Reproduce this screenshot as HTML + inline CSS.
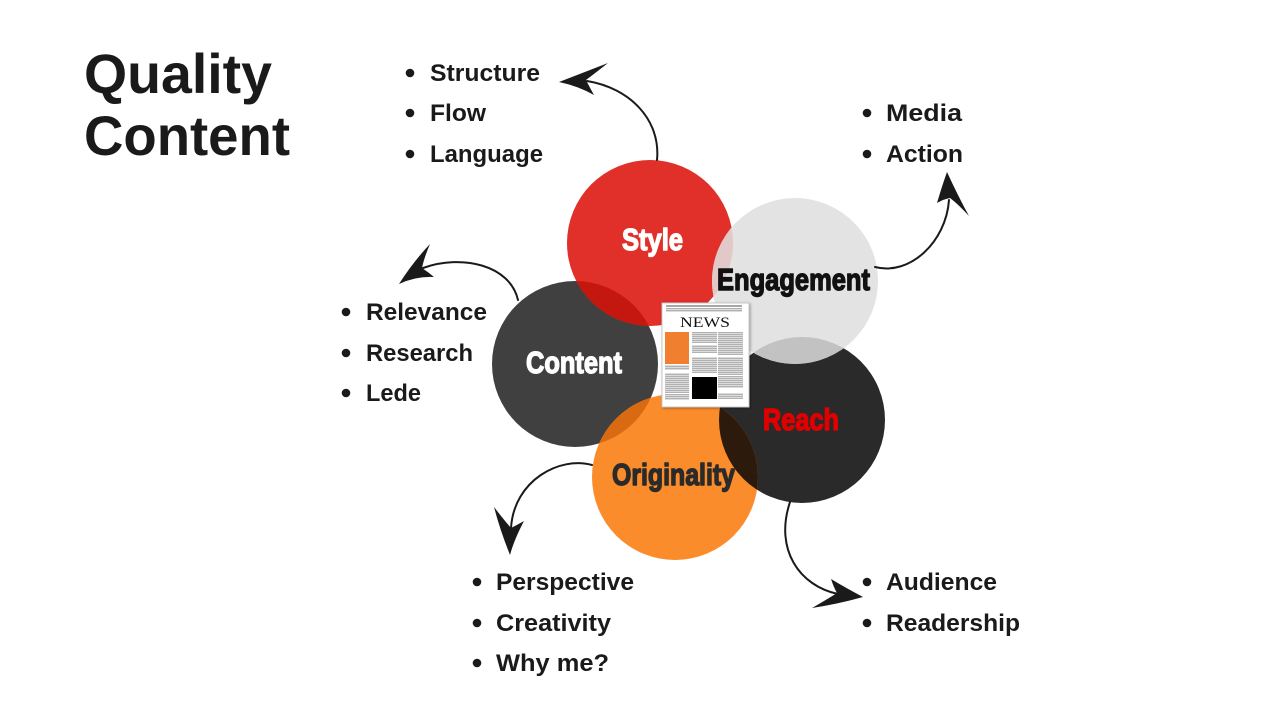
<!DOCTYPE html>
<html>
<head>
<meta charset="utf-8">
<style>
html,body{margin:0;padding:0;background:#fff;}
svg{display:block;}
text{font-family:"Liberation Sans",Arial,sans-serif;font-weight:bold;}
</style>
</head>
<body>
<svg width="1280" height="720" viewBox="0 0 1280 720" xmlns="http://www.w3.org/2000/svg">
<defs>
  <clipPath id="cStyle"><circle cx="650" cy="243" r="83"/></clipPath>
  <clipPath id="cEng"><circle cx="795" cy="281" r="83"/></clipPath>
  <clipPath id="cContent"><circle cx="575" cy="364" r="83"/></clipPath>
  <clipPath id="cReach"><circle cx="802" cy="420" r="83"/></clipPath>
  <clipPath id="cOrig"><circle cx="675" cy="477" r="83"/></clipPath>
  <pattern id="stripe" width="4" height="2" patternUnits="userSpaceOnUse">
    <rect width="4" height="2" fill="#dcdcdc"/>
    <rect width="4" height="1" fill="#b2b2b2"/>
  </pattern>
  <filter id="sh" x="-10%" y="-10%" width="130%" height="130%">
    <feDropShadow dx="1" dy="1" stdDeviation="1.2" flood-color="#000" flood-opacity="0.35"/>
  </filter>
</defs>

<rect width="1280" height="720" fill="#fff"/>

<!-- Title -->
<text x="84" y="93" font-size="56" fill="#1a1a1a" textLength="188" lengthAdjust="spacingAndGlyphs">Quality</text>
<text x="84" y="155" font-size="56" fill="#1a1a1a" textLength="206" lengthAdjust="spacingAndGlyphs">Content</text>

<!-- Base circles -->
<circle cx="575" cy="364" r="83" fill="#404040"/>
<circle cx="650" cy="243" r="83" fill="#e12f29"/>
<circle cx="802" cy="420" r="83" fill="#2a2a2a"/>
<circle cx="795" cy="281" r="83" fill="#e3e3e3"/>
<circle cx="675" cy="477" r="83" fill="#fb8c2b"/>

<!-- Overlaps -->
<circle cx="575" cy="364" r="83" fill="#c3170f" clip-path="url(#cStyle)"/>
<circle cx="650" cy="243" r="83" fill="#e3c8c8" clip-path="url(#cEng)"/>
<circle cx="802" cy="420" r="83" fill="#c2c2c2" clip-path="url(#cEng)"/>
<circle cx="575" cy="364" r="83" fill="#d86a12" clip-path="url(#cOrig)"/>
<circle cx="802" cy="420" r="83" fill="#2c1a0c" clip-path="url(#cOrig)"/>

<!-- Circle labels -->
<g stroke-width="1.4" stroke-linejoin="round">
<text x="622" y="250" font-size="31" fill="#ffffff" stroke="#ffffff" textLength="61" lengthAdjust="spacingAndGlyphs">Style</text>
<text x="717" y="290" font-size="31" fill="#111111" stroke="#111111" textLength="153" lengthAdjust="spacingAndGlyphs">Engagement</text>
<text x="526" y="373" font-size="31" fill="#ffffff" stroke="#ffffff" textLength="96" lengthAdjust="spacingAndGlyphs">Content</text>
<text x="763" y="430" font-size="31" fill="#e00000" stroke="#e00000" textLength="76" lengthAdjust="spacingAndGlyphs">Reach</text>
<text x="612" y="485" font-size="31" fill="#2a2a2a" stroke="#2a2a2a" textLength="123" lengthAdjust="spacingAndGlyphs">Originality</text>
</g>

<!-- Newspaper -->
<g>
  <rect x="662" y="303" width="87" height="104" fill="#ffffff" stroke="#c8c8c8" stroke-width="1" filter="url(#sh)"/>
  <rect x="666" y="305" width="76" height="2" fill="#a8a8a8"/>
  <rect x="666" y="308" width="76" height="4" fill="url(#stripe)"/>
  <text x="680" y="327" font-size="15" fill="#111" textLength="50" lengthAdjust="spacingAndGlyphs" style="font-family:'Liberation Serif',serif;font-weight:normal">NEWS</text>
  <rect x="665" y="332" width="24" height="32" fill="#f08030"/>
  <rect x="665" y="365" width="24" height="5" fill="url(#stripe)"/>
  <rect x="665" y="373" width="24" height="20" fill="url(#stripe)"/>
  <rect x="665" y="394" width="24" height="6" fill="url(#stripe)"/>
  <rect x="692" y="332" width="25" height="11" fill="url(#stripe)"/>
  <rect x="692" y="345" width="25" height="8" fill="url(#stripe)"/>
  <rect x="692" y="357" width="25" height="16" fill="url(#stripe)"/>
  <rect x="692" y="377" width="25" height="22" fill="#000000"/>
  <rect x="718" y="332" width="25" height="23" fill="url(#stripe)"/>
  <rect x="718" y="357" width="25" height="18" fill="url(#stripe)"/>
  <rect x="718" y="376" width="25" height="12" fill="url(#stripe)"/>
  <rect x="718" y="393" width="25" height="6" fill="url(#stripe)"/>
</g>

<!-- Arrows -->
<g fill="none" stroke="#1a1a1a" stroke-width="2" stroke-linecap="round">
  <path d="M657,160 C661,120 630,88 587,81"/>
  <path d="M875,267 C910,276 946,242 949,200"/>
  <path d="M518,300 C510,265 462,254 423,268"/>
  <path d="M592,465 C560,456 514,480 511,528"/>
  <path d="M790,502 C774,550 800,586 838,594"/>
</g>
<g fill="#1a1a1a">
  <path d="M559,82 Q590,70 608,63 Q594,74 586,80 Q589,86 594,95 Q578,86 559,82 Z"/>
  <path d="M947,172 Q958,196 969,216 Q958,204 950,198 Q944,199 937,203 Q942,186 947,172 Z"/>
  <path d="M399,284 Q413,262 430,244 Q424,258 422,268 Q428,272 434,277 Q416,276 399,284 Z"/>
  <path d="M510,555 Q500,530 494,507 Q504,520 511,528 Q517,525 524,521 Q514,540 510,555 Z"/>
  <path d="M863,597 Q846,588 831,579 Q834,588 837,593 Q826,600 812,608 Q838,604 863,597 Z"/>
</g>

<!-- Bullet lists -->
<g fill="#1a1a1a" font-size="24">
  <circle cx="410" cy="73" r="4.3"/>
  <text x="430" y="81" textLength="110" lengthAdjust="spacingAndGlyphs">Structure</text>
  <circle cx="410" cy="113" r="4.3"/>
  <text x="430" y="121" textLength="56" lengthAdjust="spacingAndGlyphs">Flow</text>
  <circle cx="410" cy="154" r="4.3"/>
  <text x="430" y="162" textLength="113" lengthAdjust="spacingAndGlyphs">Language</text>

  <circle cx="867" cy="113" r="4.3"/>
  <text x="886" y="121" textLength="76" lengthAdjust="spacingAndGlyphs">Media</text>
  <circle cx="867" cy="154" r="4.3"/>
  <text x="886" y="162" textLength="77" lengthAdjust="spacingAndGlyphs">Action</text>

  <circle cx="346" cy="312" r="4.3"/>
  <text x="366" y="320" textLength="121" lengthAdjust="spacingAndGlyphs">Relevance</text>
  <circle cx="346" cy="353" r="4.3"/>
  <text x="366" y="361" textLength="107" lengthAdjust="spacingAndGlyphs">Research</text>
  <circle cx="346" cy="393" r="4.3"/>
  <text x="366" y="401" textLength="55" lengthAdjust="spacingAndGlyphs">Lede</text>

  <circle cx="477" cy="582" r="4.3"/>
  <text x="496" y="590" textLength="138" lengthAdjust="spacingAndGlyphs">Perspective</text>
  <circle cx="477" cy="623" r="4.3"/>
  <text x="496" y="631" textLength="115" lengthAdjust="spacingAndGlyphs">Creativity</text>
  <circle cx="477" cy="663" r="4.3"/>
  <text x="496" y="671" textLength="113" lengthAdjust="spacingAndGlyphs">Why me?</text>

  <circle cx="867" cy="582" r="4.3"/>
  <text x="886" y="590" textLength="111" lengthAdjust="spacingAndGlyphs">Audience</text>
  <circle cx="867" cy="623" r="4.3"/>
  <text x="886" y="631" textLength="134" lengthAdjust="spacingAndGlyphs">Readership</text>
</g>
</svg>
</body>
</html>
